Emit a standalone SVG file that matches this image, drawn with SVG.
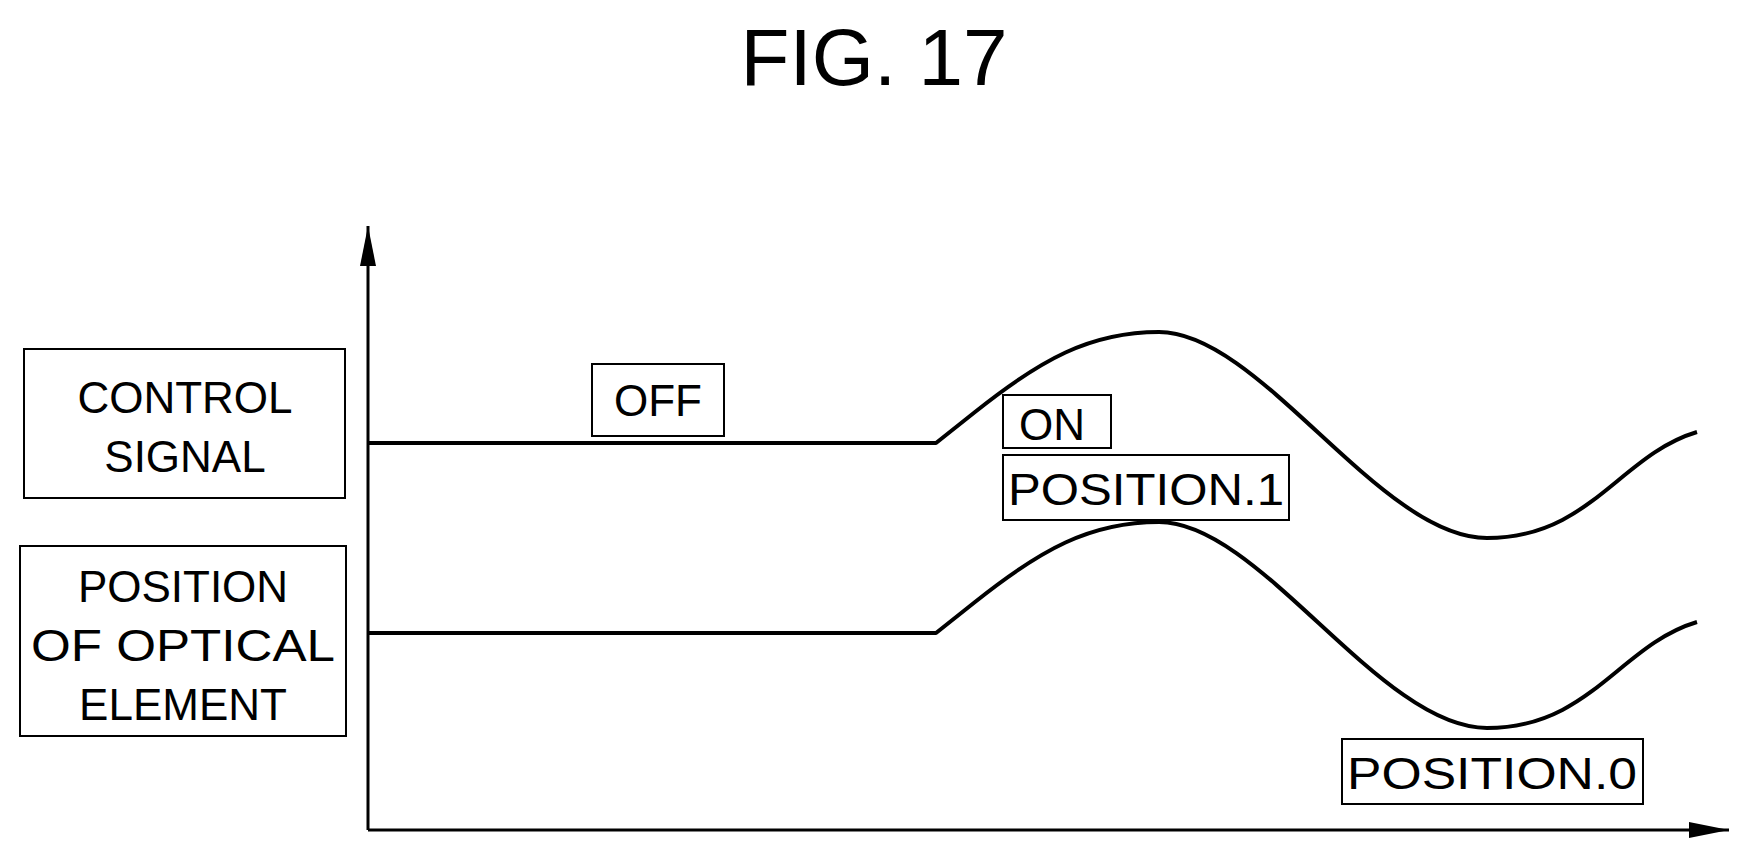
<svg xmlns="http://www.w3.org/2000/svg" width="1743" height="856" viewBox="0 0 1743 856">
<style>
text{font-family:"Liberation Sans",Arial,sans-serif;fill:#000}
.b{fill:none;stroke:#000;stroke-width:2}
.t{font-size:44px;text-anchor:middle}
.c{fill:none;stroke:#000;stroke-width:4;stroke-linejoin:round}
</style>
<defs><marker id="ah" markerWidth="12" markerHeight="12" refX="10" refY="5" orient="auto" markerUnits="userSpaceOnUse" viewBox="0 0 10 10"><path d="M0,2 L10,5 L0,8 Z" fill="#000"/></marker>
<marker id="ah2" markerWidth="40" markerHeight="16" refX="40" refY="8" orient="auto" markerUnits="userSpaceOnUse" viewBox="0 0 40 16"><path d="M0,0 L40,8 L0,16 Z" fill="#000"/></marker></defs>
<text x="874" y="85" font-size="80" text-anchor="middle">FIG. 17</text>
<g id="connectors">
<line x1="368" y1="830" x2="368" y2="226" stroke="#000" stroke-width="3" marker-end="url(#ah2)"/>
<line x1="368" y1="830" x2="1729" y2="830" stroke="#000" stroke-width="3" marker-end="url(#ah2)"/>
<path class="c" d="M368,443 L936,443 L975,412 C1040,360 1090,332 1159,332 C1260,332 1380,538 1487,538 C1590,538 1620,455 1697,432"/>
<path class="c" d="M368,633 L936,633 L975,602 C1040,550 1090,522 1159,522 C1260,522 1380,728 1487,728 C1590,728 1620,645 1697,622"/>
</g>
<g id="control"><rect class="b" x="24" y="349" width="321" height="149"/><text class="t" x="185" y="413">CONTROL</text><text class="t" x="185" y="472">SIGNAL</text></g>
<g id="position"><rect class="b" x="20" y="546" width="326" height="190"/><text class="t" x="183" y="602">POSITION</text><text class="t" x="183" y="661" textLength="304" lengthAdjust="spacingAndGlyphs">OF OPTICAL</text><text class="t" x="183" y="720">ELEMENT</text></g>
<g id="off"><rect class="b" x="592" y="364" width="132" height="72"/><text class="t" x="658" y="416">OFF</text></g>
<g id="on"><rect class="b" x="1003" y="395" width="108" height="53"/><text class="t" x="1052" y="440">ON</text></g>
<g id="pos1"><rect class="b" x="1003" y="455" width="286" height="65"/><text class="t" x="1146" y="505" textLength="276" lengthAdjust="spacingAndGlyphs">POSITION.1</text></g>
<g id="pos0"><rect class="b" x="1342" y="739" width="301" height="65"/><text class="t" x="1492" y="789" textLength="290" lengthAdjust="spacingAndGlyphs">POSITION.0</text></g>
</svg>
